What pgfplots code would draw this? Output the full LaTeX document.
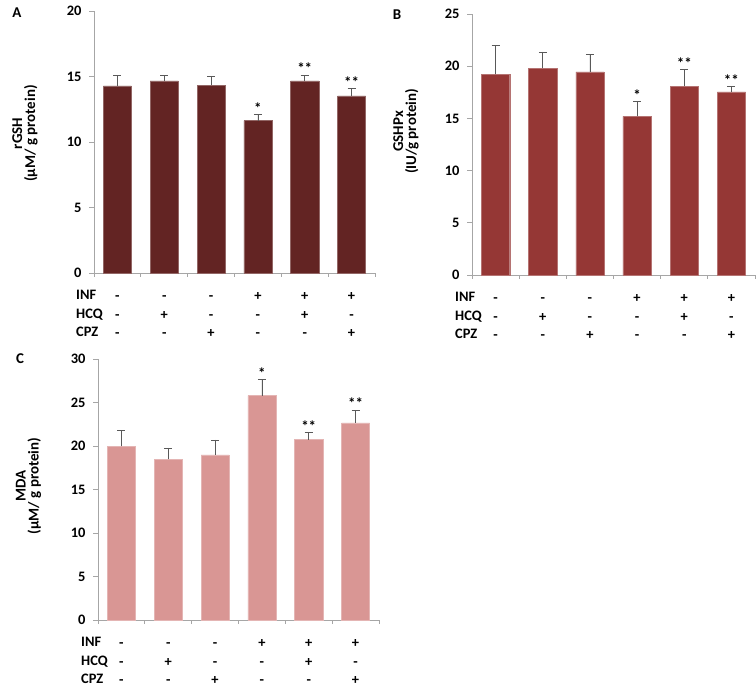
\documentclass[border=0pt]{standalone}
\usepackage{pgfplots}
\pgfplotsset{compat=1.18}
\usepackage{fontspec}
\setmainfont{Carlito}

\definecolor{barA}{HTML}{632423}
\definecolor{barB}{HTML}{953735}
\definecolor{barC}{HTML}{D99694}
\definecolor{axgray}{HTML}{A6A6A6}
\definecolor{errgray}{HTML}{595959}

\newcommand{\col}[3]{\strut#1\\\strut#2\\\strut#3}
\newcommand{\tabfont}{\bfseries\fontsize{14.5}{18.5}\selectfont}
\newcommand{\labfont}{\bfseries\fontsize{15}{13}\selectfont}

\pgfplotsset{
  panel/.style={
    scale only axis,
    clip=false,
    xmin=0.5, xmax=6.5, ymin=0,
    axis x line*=bottom, axis y line*=left,
    axis line style={axgray, line width=0.8pt},
    tick align=outside,
    major tick length=5bp, minor tick length=4bp,
    xtick={1,...,6},
    minor xtick={0.5,1.5,...,6.5},
    major x tick style={draw=none},
    minor x tick style={axgray, line width=0.8pt},
    ytick style={axgray, line width=0.8pt},
    xticklabels={{\col{-}{-}{-}},{\col{-}{+}{-}},{\col{-}{-}{+}},
                 {\col{+}{-}{-}},{\col{+}{+}{-}},{\col{+}{-}{+}}},
    xticklabel style={font=\tabfont, align=center, inner sep=0pt, anchor=north, yshift=-9.5bp},
    /pgf/number format/assume math mode=true,
    yticklabel style={font=\bfseries\fontsize{14.5}{16}\selectfont, xshift=-4bp},
  },
  bars/.style={ybar, bar width=0.6, bar shift=0pt, fill=#1, draw=#1!70!white, line width=0.4pt,
    error bars/.cd, y dir=plus, y explicit,
    error bar style={errgray, line width=0.8pt},
    error mark options={rotate=90, mark size=4bp, line width=0.8pt, errgray}},
  stars/.style={draw=none, mark=none, point meta=explicit symbolic,
    nodes near coords, nodes near coords style={anchor=south, inner sep=1bp, font=\bfseries\fontsize{15}{15}\selectfont}},
}

\begin{document}
\begin{tikzpicture}
\useasboundingbox (0,0) rectangle (756bp,688bp);

% ---- A: rGSH
\begin{axis}[panel, at={(94bp,415bp)}, anchor=south west,
  width=281bp, height=262bp, ymax=20, ytick={0,5,...,20}]
\addplot[bars=barA] coordinates {
  (1,14.29) +- (0,0.81)
  (2,14.67) +- (0,0.43)
  (3,14.34) +- (0,0.66)
  (4,11.64) +- (0,0.46)
  (5,14.67) +- (0,0.43)
  (6,13.52) +- (0,0.56)
};
\addplot[stars] coordinates {(4,12.10) [*] (5,15.10) [**] (6,14.08) [**]};
\end{axis}

% ---- B: GSHPx
\begin{axis}[panel, at={(472bp,413bp)}, anchor=south west,
  width=283bp, height=261bp, ymax=25, ytick={0,5,...,25}]
\addplot[bars=barB] coordinates {
  (1,19.21) +- (0,2.78)
  (2,19.78) +- (0,1.58)
  (3,19.46) +- (0,1.68)
  (4,15.19) +- (0,1.42)
  (5,18.10) +- (0,1.58)
  (6,17.53) +- (0,0.51)
};
\addplot[stars] coordinates {(4,16.61) [*] (5,19.68) [**] (6,18.04) [**]};
\end{axis}

% ---- C: MDA
\begin{axis}[panel, at={(98bp,68bp)}, anchor=south west,
  width=281bp, height=261bp, ymax=30, ytick={0,5,...,30}]
\addplot[bars=barC] coordinates {
  (1,19.96) +- (0,1.87)
  (2,18.47) +- (0,1.30)
  (3,18.97) +- (0,1.72)
  (4,25.80) +- (0,1.87)
  (5,20.73) +- (0,0.80)
  (6,22.67) +- (0,1.45)
};
\addplot[stars] coordinates {(4,27.67) [*] (5,21.53) [**] (6,24.12) [**]};
\end{axis}

% row labels of the treatment table
\node[font=\tabfont, align=left, inner sep=0pt, anchor=north west] at (76bp,401.25bp) {\col{INF}{HCQ}{CPZ}};
\node[font=\tabfont, align=left, inner sep=0pt, anchor=north west] at (455bp,399.25bp) {\col{INF}{HCQ}{CPZ}};
\node[font=\tabfont, align=left, inner sep=0pt, anchor=north west] at (81bp,54.25bp) {\col{INF}{HCQ}{CPZ}};

% y-axis titles
\node[font=\labfont, rotate=90, align=center, inner sep=0pt] at (25bp,554.5bp) {rGSH\\(µM/ g protein)};
\node[font=\labfont, rotate=90, align=center, inner sep=0pt] at (406bp,556.5bp) {GSHPx\\(IU/g protein)};
\node[font=\labfont, rotate=90, align=center, inner sep=0pt] at (28.5bp,202bp) {MDA\\(µM/ g protein)};

% panel letters
\node[font=\bfseries\fontsize{15}{15}\selectfont] at (17bp,675bp) {A};
\node[font=\bfseries\fontsize{15}{15}\selectfont] at (397bp,673bp) {B};
\node[font=\bfseries\fontsize{15}{15}\selectfont] at (20bp,329bp) {C};
\end{tikzpicture}
\end{document}
